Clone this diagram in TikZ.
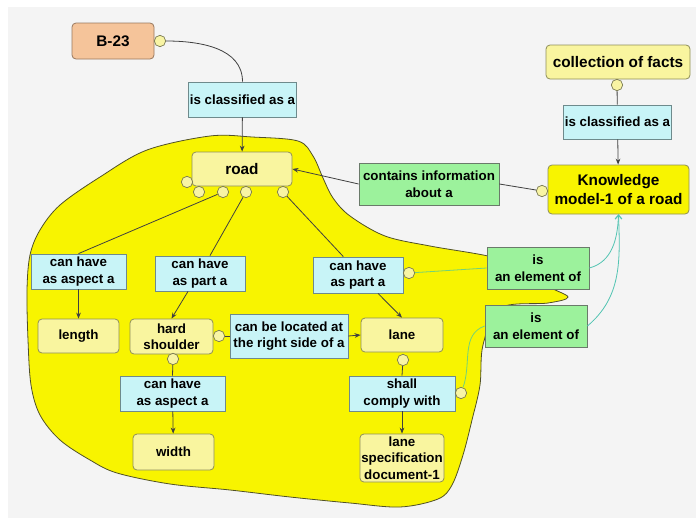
\documentclass[tikz,border=0pt]{standalone}
\usepackage{fontspec}
\setmainfont{Liberation Sans}
\usetikzlibrary{arrows.meta}

\definecolor{bggray}{HTML}{F4F4F4}
\definecolor{blobfill}{HTML}{F8F400}
\definecolor{blobline}{HTML}{505028}
\definecolor{conceptfill}{HTML}{F9F59F}
\definecolor{conceptline}{HTML}{8E8E5A}
\definecolor{relfill}{HTML}{C8F4F7}
\definecolor{relline}{HTML}{6E8A8C}
\definecolor{greenfill}{HTML}{9CF29C}
\definecolor{greenline}{HTML}{6A7A6A}
\definecolor{orangefill}{HTML}{F5C49A}
\definecolor{orangeline}{HTML}{98785E}
\definecolor{kmfill}{HTML}{F8F400}
\definecolor{knobfill}{HTML}{F8F4A4}
\definecolor{knobline}{HTML}{76764E}
\definecolor{edgegray}{HTML}{404040}
\definecolor{linkgreen}{HTML}{72D27A}
\definecolor{linkteal}{HTML}{52C4B2}

\tikzset{
  sz/.style 2 args={minimum width=#1*0.75pt, minimum height=#2*0.75pt},
  concept/.style={rectangle, rounded corners=3pt, draw=conceptline, fill=conceptfill, line width=0.6pt,
    align=center, inner sep=1pt, font=\bfseries\fontsize{10}{12.2}\selectfont},
  big/.style={font=\bfseries\fontsize{11.5}{14}\selectfont},
  rel/.style={rectangle, draw=relline, fill=relfill, line width=0.6pt,
    align=center, inner sep=1pt, font=\bfseries\fontsize{10}{12.5}\selectfont},
  grn/.style={rel, draw=greenline, fill=greenfill},
  knob/.style={circle, draw=knobline, fill=knobfill, line width=0.5pt, minimum size=8.5pt, inner sep=0pt},
  edge/.style={draw=edgegray, line width=0.6pt},
  arr/.style={edge, -{Stealth[length=4.5pt,width=3.5pt]}},
  lnk/.style={draw=linkgreen, line width=0.6pt},
  lnkarr/.style={draw=linkteal, line width=0.6pt, -{Straight Barb[length=3pt,width=5pt]}}
}

\begin{document}
\begin{tikzpicture}[x=0.75pt, y=-0.75pt]
\useasboundingbox (0,0) rectangle (696,518);
\fill[white] (0,0) rectangle (696,518);
\fill[bggray] (8,7) rectangle (696,518);

% the yellow area
\filldraw[fill=blobfill, draw=blobline, line width=0.6pt]
  plot[smooth cycle, tension=0.55] coordinates {
    (210,136) (252,137) (298,141) (313,156) (323,178) (333,198) (350,216)
    (385,236) (430,246) (488,256) (530,268) (548,286) (568,297) (548,303)
    (500,308) (483,345) (480,385) (472,420) (463,455) (452,485) (438,499)
    (400,507) (350,503) (290,497) (230,490) (170,484) (117,473) (90,460)
    (60,440) (40,415) (31,385) (28,340) (27,290) (30,255) (40,230)
    (60,205) (100,177) (147,150)};

% concepts
\node[concept, big, sz={82}{36}, fill=orangefill, draw=orangeline] (b23) at (113,41) {B-23};
\node[concept, big, sz={100}{34}] (road) at (242,169) {road};
\node[concept, big, sz={144}{34}] (facts) at (618,62) {collection of facts};
\node[concept, big, sz={141}{49}, fill=kmfill] (km) at (618.5,189.5) {Knowledge\\model-1 of a road};
\node[concept, sz={81}{34}] (length) at (78.5,336) {length};
\node[concept, sz={83}{35}] (hs) at (171.5,336.5) {hard\\shoulder};
\node[concept, sz={82}{34}] (lane) at (402,335) {lane};
\node[concept, sz={81}{36}] (width) at (173.5,452) {width};
\node[concept, sz={82}{48}] (spec) at (402,458) {lane\\specification\\document-1};

% relations
\node[rel, sz={107}{35}] (cls1) at (242.5,99.5) {is classified as a};
\node[rel, sz={107}{34}] (cls2) at (617.5,122) {is classified as a};
\node[rel, sz={95}{35}] (asp1) at (78.5,271.5) {can have\\as aspect a};
\node[rel, sz={90}{35}] (part1) at (200,273.5) {can have\\as part a};
\node[rel, sz={90}{36}] (part2) at (358,275) {can have\\as part a};
\node[rel, sz={118}{44}] (loc) at (289,336) {can be located at\\the right side of a};
\node[rel, sz={105}{35}] (asp2) at (172.5,393.5) {can have\\as aspect a};
\node[rel, sz={106}{35}] (comply) at (402,393.5) {shall\\comply with};
\node[grn, sz={140}{42}] (info) at (429,184) {contains information\\about a};
\node[grn, sz={102}{42}] (elem1) at (538,268) {is\\an element of};
\node[grn, sz={102}{42}] (elem2) at (536,326) {is\\an element of};

% knobs
\node[knob] (kb23) at (160,41) {};
\node[knob] (kfacts) at (617,85) {};
\node[knob] (kkm) at (542,191) {};
\node[knob] (kr1) at (187,182) {};
\node[knob] (kr2) at (199,192) {};
\node[knob] (kr3) at (223,192) {};
\node[knob] (kr4) at (246,192) {};
\node[knob] (kr5) at (283,192) {};
\node[knob] (kpart2) at (409,273) {};
\node[knob] (khsr) at (219,336) {};
\node[knob] (khsb) at (173,359) {};
\node[knob] (klane) at (403,360) {};
\node[knob] (kcomply) at (461,393) {};

% connectors
\draw[edge] (kb23) to[out=0, in=90] (cls1.north);
\draw[arr] (cls1) -- (road);
\draw[edge] (kfacts) -- (cls2);
\draw[arr] (cls2) -- (km);
\draw[edge] (kkm) -- (info.east);
\draw[arr] (info.west) -- (road.east);
\draw[edge] (kr3) -- (asp1.north);
\draw[edge] (kr4) -- ([xshift=7.5pt]part1.north);
\draw[edge] (kr5) -- ([xshift=-11pt]part2.north);
\draw[arr] (asp1) -- (length);
\draw[arr] ([xshift=-9pt]part1.south) -- (hs.north);
\draw[arr] ([xshift=15pt]part2.south) -- (lane.north);
\draw[edge] (khsr) -- (loc.west);
\draw[arr] (loc.east) -- (lane.west);
\draw[edge] (khsb) -- (asp2.north);
\draw[arr] (asp2) -- (width);
\draw[edge] (klane) -- (comply.north);
\draw[arr] (comply) -- (spec);
\draw[lnk] (kpart2) -- (elem1.west);
\draw[lnk] (kcomply) to[out=70, in=200] (elem2.west);
\draw[lnkarr] (elem1.east) to[out=15, in=-92] (km.south);
\draw[lnkarr] (elem2.east) to[out=40, in=-88] (km.south);
\end{tikzpicture}
\end{document}
